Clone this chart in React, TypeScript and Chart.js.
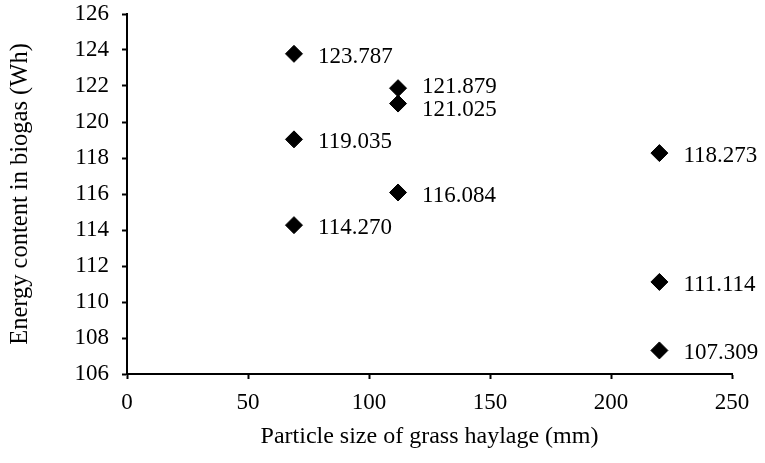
import React, { useEffect, useRef } from "react";
import { Chart, registerables } from "chart.js";

Chart.register(...registerables);

const particleSizes = [69, 69, 69, 112, 112, 112, 220, 220, 220];
const energyValues = [123.787, 119.035, 114.27, 121.879, 121.025, 116.084, 118.273, 111.114, 107.309];
const xTicks = [0, 50, 100, 150, 200, 250];
const yTicks = [106, 108, 110, 112, 114, 116, 118, 120, 122, 124, 126];
const xTitle = "Particle size of grass haylage (mm)";
const yTitle = "Energy content in biogas (Wh)";

const FONT = "'Liberation Serif', 'Times New Roman', serif";

const labelPlugin = {
  id: "pointLabels",
  afterDatasetsDraw(chart: any) {
    const ctx = chart.ctx;
    const meta = chart.getDatasetMeta(0);
    const items = meta.data.map((pt: any, i: number) => ({
      x: pt.x,
      y: pt.y + 3,
      text: energyValues[i].toFixed(3),
    }));
    // avoid overlapping labels that share a column
    const minGap = 23;
    for (let a = 0; a < items.length; a++) {
      for (let b = a + 1; b < items.length; b++) {
        const A = items[a];
        const B = items[b];
        if (Math.abs(A.x - B.x) < 1) {
          const d = Math.abs(A.y - B.y);
          if (d < minGap) {
            const push = (minGap - d) / 2;
            if (A.y < B.y) {
              A.y -= push;
              B.y += push;
            } else {
              A.y += push;
              B.y -= push;
            }
          }
        }
      }
    }
    ctx.save();
    ctx.fillStyle = "#000";
    ctx.font = `23px ${FONT}`;
    ctx.textAlign = "left";
    ctx.textBaseline = "middle";
    items.forEach((it: any) => {
      ctx.fillText(it.text, it.x + 24, it.y);
    });
    ctx.restore();
  },
};

export default function App() {
  const ref = useRef<HTMLCanvasElement | null>(null);
  useEffect(() => {
    if (!ref.current) return;
    const chart = new Chart(ref.current, {
      type: "scatter",
      data: {
        datasets: [
          {
            data: particleSizes.map((x, i) => ({ x, y: energyValues[i] })),
            pointStyle: "rectRot",
            pointRadius: 8.5,
            pointBackgroundColor: "#000",
            pointBorderColor: "#000",
            pointBorderWidth: 1,
          },
        ],
      },
      plugins: [labelPlugin],
      options: {
        animation: false,
        responsive: false,
        devicePixelRatio: 1,
        layout: { padding: { top: 14, right: 33, left: 0, bottom: 0 } },
        plugins: { legend: { display: false }, tooltip: { enabled: false } },
        scales: {
          x: {
            type: "linear",
            min: 0,
            max: 250,
            afterBuildTicks: (s: any) => {
              s.ticks = xTicks.map((v) => ({ value: v }));
            },
            afterFit: (s: any) => {
              s.height = 89;
              s.paddingLeft = 0;
              s.paddingRight = 0;
            },
            grid: { drawOnChartArea: false, tickLength: 5, tickColor: "#000", tickWidth: 2 },
            border: { color: "#000", width: 2 },
            ticks: { color: "#000", font: { family: FONT, size: 23 }, padding: 10, maxRotation: 0 },
            title: {
              display: true,
              text: xTitle,
              color: "#000",
              font: { family: FONT, size: 24 },
              padding: { top: 4, bottom: 12 },
            },
          },
          y: {
            type: "linear",
            min: 106,
            max: 126,
            afterBuildTicks: (s: any) => {
              s.ticks = yTicks.map((v) => ({ value: v }));
            },
            afterFit: (s: any) => {
              s.width = 127;
              s.paddingTop = 0;
              s.paddingBottom = 0;
            },
            grid: { drawOnChartArea: false, tickLength: 5, tickColor: "#000", tickWidth: 2 },
            border: { color: "#000", width: 2 },
            ticks: { color: "#000", font: { family: FONT, size: 23 }, padding: 13 },
            title: {
              display: true,
              text: yTitle,
              color: "#000",
              font: { family: FONT, size: 24.5 },
              padding: { top: 6, bottom: 4 },
            },
          },
        },
      },
    });
    return () => chart.destroy();
  }, []);
  return (
    <div style={{ position: "fixed", left: 0, top: 0, width: 765, height: 463, background: "#fff" }}>
      <canvas ref={ref} width={765} height={463} style={{ width: 765, height: 463, display: "block" }} />
    </div>
  );
}
